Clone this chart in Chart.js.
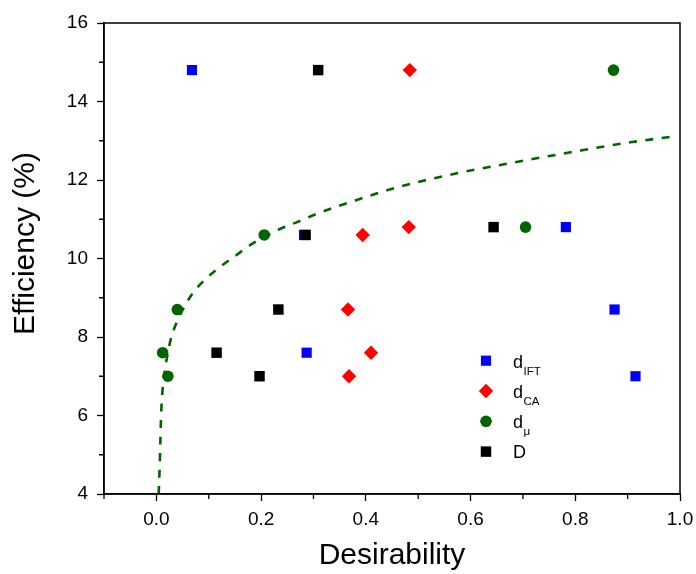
<!DOCTYPE html>
<html><head><meta charset="utf-8">
<script src="https://cdn.jsdelivr.net/npm/chart.js@4/dist/chart.umd.min.js"></script>
<style>html,body{margin:0;padding:0;background:#fff;}#wrap{width:696px;height:574px;}</style>
</head><body><div id="wrap"><canvas id="c" width="696" height="574"></canvas></div>
<script>
// Efficiency (%) values shared by all series
const efficiency = [14.8, 10.8, 10.6, 8.7, 7.6, 7.0];
// Desirability values for each series (same order as efficiency)
const dIFT = [0.068, 0.782, 0.282, 0.875, 0.287, 0.915];
const dCA  = [0.484, 0.482, 0.394, 0.366, 0.410, 0.368];
const dMu  = [0.873, 0.705, 0.206, 0.040, 0.012, 0.022];
const dD   = [0.309, 0.644, 0.285, 0.233, 0.115, 0.197];
// Fitted curve
const fitX = [0.0044,0.0063,0.0076,0.0088,0.0107,0.016,0.022,0.0287,0.045,0.067,0.092,0.121,0.153,0.185,0.207,0.239,0.271,0.303,0.335,0.366,0.465,0.574,0.688,0.797,0.905,0.983];
const fitY = [4.0,4.7,5.3,5.9,6.45,7.13,7.6,8.0,8.55,9.07,9.45,9.78,10.09,10.39,10.55,10.77,10.94,11.12,11.28,11.42,11.83,12.17,12.46,12.72,12.96,13.1];
// Ticks
const xMajorTicks = [0.0, 0.2, 0.4, 0.6, 0.8, 1.0];
const xMinorTicks = [-0.1, 0.1, 0.3, 0.5, 0.7, 0.9];
const yMajorTicks = [4, 6, 8, 10, 12, 14, 16];
const yMinorTicks = [5, 7, 9, 11, 13, 15];
// Legend labels (main text + subscript)
const legendMain = ['d', 'd', 'd', 'D'];
const legendSub  = ['IFT', 'CA', '\u03bc', ''];
const xTitle = 'Desirability';
const yTitle = 'Efficiency (%)';

const FONT = "'Liberation Sans', Arial, Helvetica, sans-serif";
const pts = (xs) => xs.map((x, i) => ({x: x, y: efficiency[i]}));

const seriesDefs = [
  {data: pts(dIFT), color: '#0000ff', style: 'rect', radius: 7.2, order: 1},
  {data: pts(dCA),  color: '#ff0000', style: 'rectRot', radius: 7.2, order: 2},
  {data: pts(dMu),  color: '#006400', style: 'circle', radius: 5.8, order: 3},
  {data: pts(dD),   color: '#000000', style: 'rect', radius: 7.4, order: 0}
];

const datasets = seriesDefs.map((s, i) => ({
  label: legendMain[i] + legendSub[i],
  data: s.data,
  showLine: false,
  pointStyle: s.style,
  pointRadius: s.radius,
  pointHoverRadius: s.radius,
  pointBackgroundColor: s.color,
  pointBorderColor: s.color,
  pointBorderWidth: 0,
  backgroundColor: s.color,
  borderColor: s.color,
  order: s.order
}));
datasets.push({
  label: 'fit',
  data: fitX.map((x, i) => ({x: x, y: fitY[i]})),
  showLine: true,
  pointRadius: 0,
  borderColor: '#006400',
  borderWidth: 2.6,
  borderDash: [8, 8.5],
  cubicInterpolationMode: 'monotone',
  fill: false,
  order: 5
});

const framePlugin = {
  id: 'frame',
  afterDraw(chart) {
    const ctx = chart.ctx, a = chart.chartArea;
    ctx.save();
    ctx.strokeStyle = '#000';
    ctx.lineWidth = 1.5;
    ctx.strokeRect(a.left, a.top, a.right - a.left, a.bottom - a.top);
    // minor ticks
    ctx.lineWidth = 1.3;
    const xs = chart.scales.x, ys = chart.scales.y;
    ctx.beginPath();
    xMinorTicks.forEach(v => {
      const px = xs.getPixelForValue(v);
      ctx.moveTo(px, a.bottom); ctx.lineTo(px, a.bottom + 5);
    });
    yMinorTicks.forEach(v => {
      const py = ys.getPixelForValue(v);
      ctx.moveTo(a.left, py); ctx.lineTo(a.left - 5, py);
    });
    ctx.stroke();
    // y title
    ctx.fillStyle = '#000';
    ctx.font = '30px ' + FONT;
    ctx.textAlign = 'center';
    ctx.textBaseline = 'middle';
    ctx.translate(26, 243.5);
    ctx.rotate(-Math.PI / 2);
    ctx.fillText(yTitle, 0, 0);
    ctx.restore();
    // legend
    ctx.save();
    const lx = 486, ly0 = 360.7, dy = 30.3;
    seriesDefs.forEach((s, i) => {
      const y = ly0 + i * dy;
      ctx.fillStyle = s.color;
      ctx.strokeStyle = s.color;
      ctx.lineWidth = 0;
      Chart.helpers.drawPoint(ctx, {pointStyle: s.style, radius: s.radius, borderWidth: 0}, lx, y);
      ctx.fillStyle = '#000';
      ctx.textAlign = 'left';
      ctx.textBaseline = 'alphabetic';
      ctx.font = '18px ' + FONT;
      ctx.fillText(legendMain[i], 513, y + 6.8);
      const w = ctx.measureText(legendMain[i]).width;
      if (legendSub[i]) {
        ctx.font = '11.5px ' + FONT;
        ctx.fillText(legendSub[i], 513 + w + 0.5, y + 13.8);
      }
    });
    ctx.restore();
  }
};

new Chart(document.getElementById('c'), {
  type: 'scatter',
  data: {datasets: datasets},
  options: {
    responsive: false,
    animation: false,
    devicePixelRatio: 1,
    layout: {padding: {left: 0, right: 16, top: 23, bottom: 0}},
    plugins: {legend: {display: false}, tooltip: {enabled: false}},
    scales: {
      x: {
        type: 'linear', min: -0.1, max: 1.0,
        afterBuildTicks: (scale) => { scale.ticks = xMajorTicks.map(v => ({value: v})); },
        afterFit: (scale) => { scale.height = 80; scale.paddingRight = 0; scale.paddingLeft = 0; },
        ticks: {
          color: '#000', font: {size: 19, family: FONT}, padding: 7,
          maxRotation: 0, autoSkip: false,
          callback: (v) => Number(v).toFixed(1)
        },
        grid: {display: true, drawOnChartArea: false, drawTicks: true, tickLength: 7, tickColor: '#000', tickWidth: 1.3},
        border: {display: true, color: '#000', width: 1.5},
        title: {display: true, text: xTitle, color: '#000', font: {size: 30, family: FONT}, padding: {top: 0, bottom: 0}}
      },
      y: {
        type: 'linear', min: 4, max: 16,
        afterBuildTicks: (scale) => { scale.ticks = yMajorTicks.map(v => ({value: v})); },
        afterFit: (scale) => { scale.width = 104; scale.paddingTop = 0; scale.paddingBottom = 0; },
        ticks: {
          color: '#000', font: {size: 19, family: FONT}, padding: 9, autoSkip: false,
          callback: (v) => String(v)
        },
        grid: {display: true, drawOnChartArea: false, drawTicks: true, tickLength: 7, tickColor: '#000', tickWidth: 1.3},
        border: {display: true, color: '#000', width: 1.5},
        title: {display: false}
      }
    }
  },
  plugins: [framePlugin]
});
</script></body></html>
